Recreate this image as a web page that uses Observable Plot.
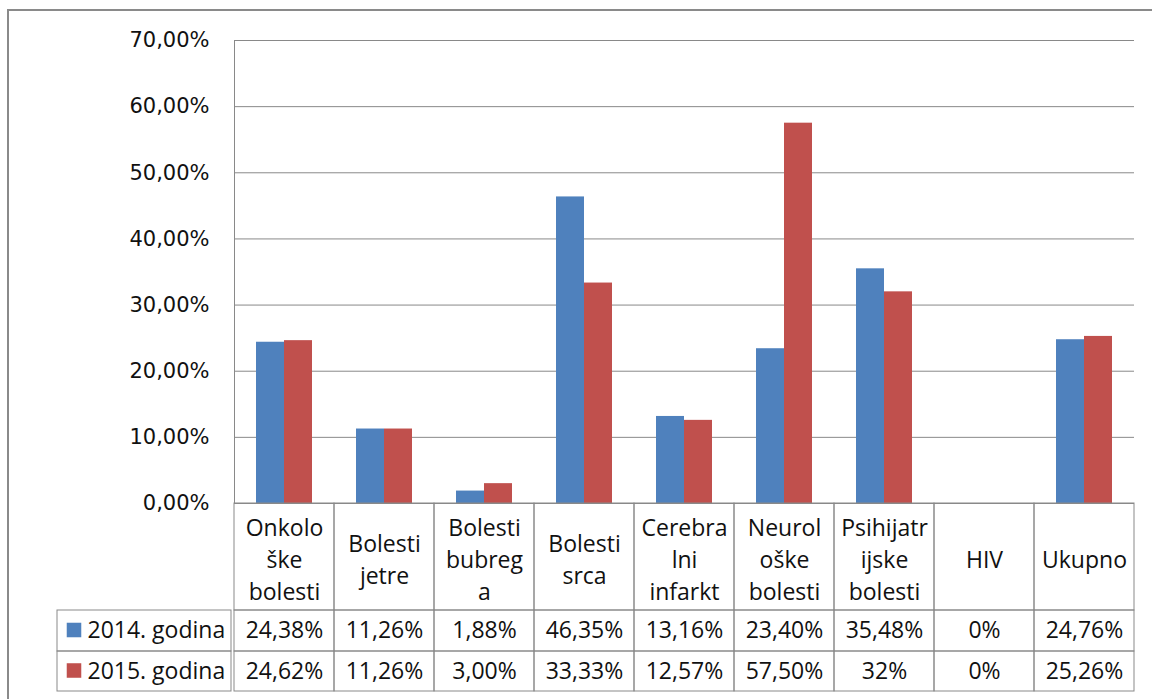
<!DOCTYPE html>
<html><head><meta charset="utf-8">
<script src="https://cdn.jsdelivr.net/npm/d3@7"></script>
<script src="https://cdn.jsdelivr.net/npm/@observablehq/plot@0.6"></script>
<style>
html,body{margin:0;padding:0;background:#fff;overflow:hidden;}
#wrap{position:relative;width:1152px;height:699px;overflow:hidden;}
#border{position:absolute;left:7px;top:9px;width:1170px;height:720px;border-top:2px solid #8a8a8a;border-left:2px solid #8a8a8a;box-sizing:border-box;}
#chart{position:absolute;left:0;top:0;}
</style></head><body>
<div id="wrap"><div id="border"></div><div id="chart"></div></div>
<script>
const categories = ["Onkološke bolesti","Bolesti jetre","Bolesti bubrega","Bolesti srca","Cerebralni infarkt","Neurološke bolesti","Psihijatrijske bolesti","HIV","Ukupno"];
const categoryLabels = ["Onkolo\nške\nbolesti","Bolesti\njetre","Bolesti\nbubreg\na","Bolesti\nsrca","Cerebra\nlni\ninfarkt","Neurol\noške\nbolesti","Psihijatr\nijske\nbolesti","HIV","Ukupno"];
const series = ["2014. godina","2015. godina"];
const colors = ["#4F81BD","#C0504D"];
const values2014 = [0.2438,0.1126,0.0188,0.4635,0.1316,0.2340,0.3548,0,0.2476];
const values2015 = [0.2462,0.1126,0.0300,0.3333,0.1257,0.5750,0.32,0,0.2526];
const labels2014 = ["24,38%","11,26%","1,88%","46,35%","13,16%","23,40%","35,48%","0%","24,76%"];
const labels2015 = ["24,62%","11,26%","3,00%","33,33%","12,57%","57,50%","32%","0%","25,26%"];
const yTicks = [0,0.1,0.2,0.3,0.4,0.5,0.6,0.7];

const data = categories.flatMap((c,i)=>[
  {category:c, series:series[0], value:values2014[i]},
  {category:c, series:series[1], value:values2015[i]}
]);

const W=1152, H=699, mL=232, mR=17, mT=40, mB=196;
const innerW = W-mL-mR;
const gray = "#898989";
const baseY = H-mB;           // 503
const headerBottom = 610, row1Bottom = 651, row2Bottom = 691, tableLeft = 55;
const tableFont = "'Open Sans', 'Noto Sans', sans-serif";
const fs = 23;

const fxOf = d=>d;
const cellRect = (top,bottom)=>Plot.rect(categories,{fx:fxOf, insetTop:top-mT, insetBottom:baseY-bottom, stroke:gray, fill:"none", strokeWidth:1});
const legendRect = (top,bottom)=>Plot.rect([0],{facet:"super", insetLeft:tableLeft-mL, insetRight:innerW, insetTop:top-mT, insetBottom:baseY-bottom, stroke:gray, fill:"none", strokeWidth:1});

const chart = Plot.plot({
  width:W, height:H,
  marginLeft:mL, marginRight:mR, marginTop:mT, marginBottom:mB,
  style:{fontFamily:tableFont, fontSize:fs+"px", background:"transparent", overflow:"visible", color:"#000"},
  fx:{domain:categories, padding:0, axis:null},
  x:{domain:series, paddingInner:0, paddingOuter:0.75, axis:null},
  y:{domain:[0,0.7], axis:null},
  color:{domain:series, range:colors},
  marks:[
    Plot.gridY(yTicks,{stroke:gray, strokeOpacity:1, strokeWidth:1}),
    Plot.barY(data,{fx:"category", x:"series", y:"value", fill:"series"}),
    Plot.frame({facet:"super", anchor:"left", stroke:gray}),
    Plot.axisY(yTicks,{anchor:"left", label:null, tickSize:0, tickPadding:25, fontSize:21, fontFamily:"'DejaVu Sans', Verdana, sans-serif",
      tickFormat:d=>(d*100).toFixed(2).replace(".",",")+"%", fill:"#111"}),
    // table cells
    cellRect(baseY, headerBottom),
    cellRect(headerBottom, row1Bottom),
    cellRect(row1Bottom, row2Bottom),
    legendRect(headerBottom, row1Bottom),
    legendRect(row1Bottom, row2Bottom),
    Plot.ruleY([0],{stroke:gray}),
    // header labels
    Plot.text(categories,{fx:fxOf, text:(d,i)=>categoryLabels[i], frameAnchor:"bottom", dy:(baseY+headerBottom)/2-baseY+1, lineAnchor:"middle", lineHeight:32/fs, fill:"#111"}),
    // values
    Plot.text(categories,{fx:fxOf, text:(d,i)=>labels2014[i], frameAnchor:"bottom", dy:(headerBottom+row1Bottom)/2-baseY, lineAnchor:"middle", fill:"#111"}),
    Plot.text(categories,{fx:fxOf, text:(d,i)=>labels2015[i], frameAnchor:"bottom", dy:(row1Bottom+row2Bottom)/2-baseY, lineAnchor:"middle", fill:"#111"}),
    // legend column
    Plot.dot([series[0]],{facet:"super", frameAnchor:"bottom-left", dx:71.5-mL, dy:(headerBottom+row1Bottom)/2-baseY-1, symbol:"square", r:8.2, fill:colors[0], stroke:"none"}),
    Plot.dot([series[1]],{facet:"super", frameAnchor:"bottom-left", dx:71.5-mL, dy:(row1Bottom+row2Bottom)/2-baseY-1, symbol:"square", r:8.2, fill:colors[1], stroke:"none"}),
    Plot.text([series[0]],{facet:"super", frameAnchor:"bottom-left", dx:85-mL, dy:(headerBottom+row1Bottom)/2-baseY, textAnchor:"start", lineAnchor:"middle", text:d=>d, fill:"#111"}),
    Plot.text([series[1]],{facet:"super", frameAnchor:"bottom-left", dx:85-mL, dy:(row1Bottom+row2Bottom)/2-baseY, textAnchor:"start", lineAnchor:"middle", text:d=>d, fill:"#111"})
  ]
});
document.getElementById("chart").appendChild(chart);
</script>
</body></html>
